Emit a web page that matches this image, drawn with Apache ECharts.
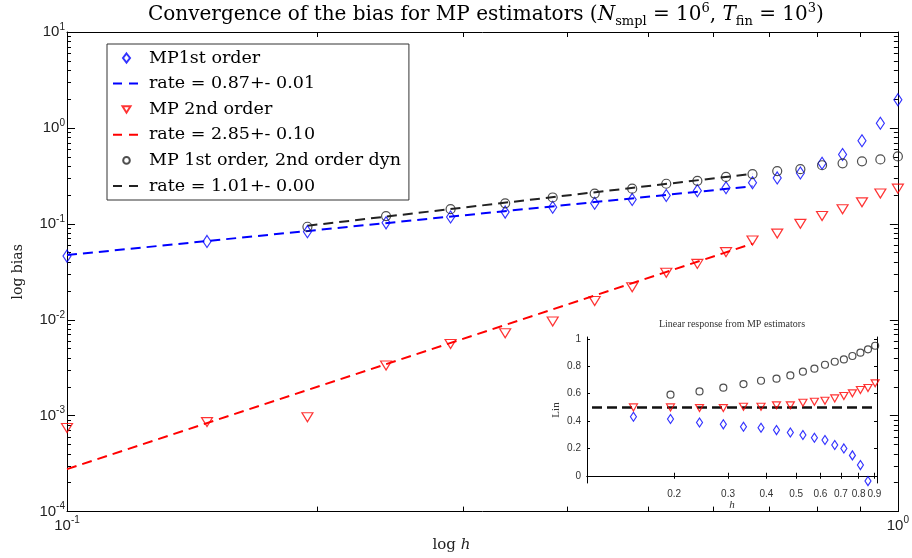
<!DOCTYPE html>
<html><head><meta charset="utf-8">
<script src="https://cdn.jsdelivr.net/npm/echarts@6/dist/echarts.min.js"></script>
<style>html,body{margin:0;padding:0;background:#fff}#c{width:912px;height:558px}</style>
</head><body><div id="c"></div>
<script>
// ---- data ----
const h = [0.1, 0.1474, 0.1947, 0.2421, 0.2895, 0.3368, 0.3842, 0.4316, 0.4789, 0.5263,
           0.5737, 0.6211, 0.6684, 0.7158, 0.7632, 0.8105, 0.8579, 0.9053, 0.9526, 1.0];
const biasMP1 = [0.0461, 0.0656, 0.0829, 0.1024, 0.1178, 0.1325, 0.149, 0.1637, 0.1798, 0.1974,
                 0.2218, 0.238, 0.2679, 0.3012, 0.3388, 0.4277, 0.5284, 0.7339, 1.119, 1.963];
const biasMP2 = [0.000745, 0.000857, 0.000964, 0.003334, 0.005585, 0.00723, 0.00959, 0.0157, 0.0218, 0.03097,
                 0.03823, 0.0507, 0.06714, 0.07912, 0.100, 0.1206, 0.1422, 0.1675, 0.207, 0.2327];
const hMP1d = h.slice(2);
const biasMP1d = [0.0932, 0.1206, 0.1422, 0.1637, 0.1883, 0.207, 0.2327, 0.2617, 0.2808,
                  0.3083, 0.3306, 0.3546, 0.3716, 0.4083, 0.4277, 0.4483, 0.4697, 0.5047];
const fitMP1X = [0.1, 0.6684],    fitMP1Y = [0.0472, 0.2464];
const fitMP2X = [0.1, 0.6684],    fitMP2Y = [0.000277, 0.0622];
const fitMP1dX = [0.1947, 0.6684], fitMP1dY = [0.0955, 0.3319];

const hLinMP1 = h.slice(1, 17);
const linMP1 = [0.432, 0.415, 0.39, 0.376, 0.359, 0.351, 0.334, 0.317, 0.298, 0.278,
                0.261, 0.225, 0.20, 0.149, 0.078, -0.039];
const hLinMP2 = h.slice(1, 18);
const linMP2 = [0.50, 0.50, 0.495, 0.495, 0.505, 0.505, 0.515, 0.515, 0.534, 0.541,
                0.549, 0.566, 0.583, 0.603, 0.627, 0.642, 0.676];
const hLinMP1d = h.slice(2, 18);
const linMP1d = [0.593, 0.617, 0.644, 0.671, 0.695, 0.71, 0.734, 0.761, 0.783, 0.812,
                 0.834, 0.851, 0.876, 0.90, 0.925, 0.951];
const linRefX = [0.108, 0.918], linRefY = [0.5, 0.5];

const legendNames = ['MP1st order', 'rate = 0.87+- 0.01', 'MP 2nd order', 'rate = 2.85+- 0.10',
                     'MP 1st order, 2nd order dyn', 'rate = 1.01+- 0.00'];
const yMajorTicks = [1e-4, 1e-3, 1e-2, 1e-1, 1, 10];
const xMajorTicks = [0.1, 1];
const xMinorTicks = [0.2, 0.3, 0.4, 0.5, 0.6, 0.7, 0.8, 0.9];
const minorMult = [2, 3, 4, 5, 6, 7, 8, 9];
const yMinorTicks = [];
yMajorTicks.slice(0, -1).forEach(d => minorMult.forEach(m => yMinorTicks.push(+(m * d).toPrecision(3))));
const insetXTicks = [0.2, 0.3, 0.4, 0.5, 0.6, 0.7, 0.8, 0.9];
const insetYTicks = [0, 0.2, 0.4, 0.6, 0.8, 1];

// ---- helpers ----
const pts = (xs, ys) => xs.map((x, i) => [x, ys[i]]);
const SERIF = 'DejaVu Serif';
const SANS = 'Liberation Sans';
const powLabel = v => '{b|10}{s|' + Math.round(Math.log10(v)) + '}';
const powRich = {
  b: {fontSize: 15, fontFamily: SANS, color: '#222', lineHeight: 20},
  s: {fontSize: 10, fontFamily: SANS, color: '#222', lineHeight: 11, verticalAlign: 'top'}
};
const BLUE = '#0000ff', RED = '#ff0000', BLACK = '#222';
const hollow = c => ({color: 'rgba(255,255,255,0)', borderColor: c, borderWidth: 1.2});

// legend icons (12x12 boxes kept by invisible corner moves)
const ICON_DIAMOND = 'path://M0,0 M12,12 M6,1.5 L9.5,6 L6,10.5 L2.5,6 Z';
const ICON_TRI_DOWN = 'path://M0,0 M12,12 M2,3 L10,3 L6,9.5 Z';
const ICON_CIRCLE = 'path://M0,0 M12,12 M9.3,6 A3.3,3.3 0 1 1 2.7,6 A3.3,3.3 0 1 1 9.3,6 Z';
const lineLegend = name => ({name: name, itemStyle: {opacity: 0}, lineStyle: {type: [9, 7], width: 2}});

const mainX = (pos, labels) => ({
  type: 'log', logBase: 10, gridIndex: 0, min: 0.1, max: 1, position: pos,
  axisLine: {show: true, lineStyle: {color: '#000', width: 1}},
  axisTick: {show: true, inside: true, length: 5, customValues: xMinorTicks, lineStyle: {color: '#000'}},
  axisLabel: labels ? {customValues: xMajorTicks, formatter: powLabel, rich: powRich, margin: 4} : {show: false},
  splitLine: {show: false}
});
const mainY = (pos, major, line) => ({
  type: 'log', logBase: 10, gridIndex: 0, min: 1e-4, max: 10, position: pos,
  axisLine: {show: line, lineStyle: {color: '#000', width: 1}},
  axisTick: {show: true, inside: true, length: major ? 8 : 4,
             customValues: major ? yMajorTicks : yMinorTicks, lineStyle: {color: '#000'}},
  axisLabel: (major && pos === 'left') ? {customValues: yMajorTicks, formatter: powLabel, rich: powRich, margin: 2} : {show: false},
  splitLine: {show: false}, splitArea: {show: false}
});

const titleRich = {
  a: {fontSize: 20, fontFamily: SERIF, fontWeight: 'normal', color: '#000', lineHeight: 26},
  i: {fontSize: 20, fontFamily: SERIF, fontWeight: 'normal', fontStyle: 'italic', color: '#000', lineHeight: 26},
  sub: {fontSize: 13, fontFamily: SERIF, fontWeight: 'normal', color: '#000', lineHeight: 13, verticalAlign: 'bottom'},
  sup: {fontSize: 13, fontFamily: SERIF, fontWeight: 'normal', color: '#000', lineHeight: 13, verticalAlign: 'top'}
};

const option = {
  animation: false,
  backgroundColor: '#fff',
  title: [{
    text: '{a|Convergence of the bias for MP estimators (}{i|N}{sub|smpl}{a| = 10}{sup|6}{a|, }{i|T}{sub|fin}{a| = 10}{sup|3}{a|)}',
    left: 148, top: 2, padding: 0,
    textStyle: {fontWeight: 'normal', rich: titleRich}
  }, {
    text: 'Linear response from MP estimators', left: 732, top: 319, padding: 0, textAlign: 'center',
    textStyle: {fontFamily: 'Liberation Serif', fontSize: 10, fontWeight: 'normal', color: '#333'}
  }],
  legend: {
    data: [
      {name: legendNames[0], icon: ICON_DIAMOND},
      lineLegend(legendNames[1]),
      {name: legendNames[2], icon: ICON_TRI_DOWN},
      lineLegend(legendNames[3]),
      {name: legendNames[4], icon: ICON_CIRCLE},
      lineLegend(legendNames[5])
    ],
    orient: 'vertical', left: 107, top: 44,
    backgroundColor: '#fff', borderColor: '#333', borderWidth: 1,
    padding: [5, 8, 5, 5], itemGap: 7.6, itemWidth: 27, itemHeight: 12, symbolKeepAspect: true,
    textStyle: {fontFamily: SERIF, fontSize: 17.5, color: '#000', lineHeight: 17, padding: [0, 0, 0, 4]},
    selectedMode: false
  },
  grid: [
    {left: 67, top: 32, width: 832, height: 491, show: false},
    {left: 587, top: 337, width: 290, height: 146, show: true, backgroundColor: '#fff', borderWidth: 0, z: 3}
  ],
  xAxis: [
    Object.assign(mainX('bottom', true), {
      name: '{r|log }{i|h}', nameLocation: 'middle', nameGap: 12,
      nameTextStyle: {padding: [0, 62, 0, 0], rich: {
        r: {fontFamily: SERIF, fontSize: 15, color: '#222'},
        i: {fontFamily: SERIF, fontSize: 15, fontStyle: 'italic', color: '#222'}}}
    }),
    mainX('top', false),
    {
      type: 'log', logBase: 10, gridIndex: 1, min: 0.104, max: 0.918, position: 'bottom', z: 4,
      axisLine: {show: true, lineStyle: {color: '#000', width: 1}},
      axisTick: {show: true, inside: true, length: 3, customValues: insetXTicks, lineStyle: {color: '#000'}},
      axisLabel: {customValues: insetXTicks, formatter: v => v.toFixed(1), fontFamily: SANS, fontSize: 10, color: '#333', margin: 6},
      splitLine: {show: false},
      name: 'h', nameLocation: 'middle', nameGap: 17,
      nameTextStyle: {fontFamily: 'Liberation Serif', fontStyle: 'italic', fontSize: 11, color: '#333'}
    },
    {
      type: 'log', logBase: 10, gridIndex: 1, min: 0.104, max: 0.918, position: 'top', z: 4,
      axisLine: {show: true, lineStyle: {color: '#000', width: 1}},
      axisTick: {show: true, inside: true, length: 3, customValues: insetXTicks, lineStyle: {color: '#000'}},
      axisLabel: {show: false}, splitLine: {show: false}
    }
  ],
  yAxis: [
    Object.assign(mainY('left', true, true), {
      name: 'log bias', nameLocation: 'middle', nameGap: 42,
      nameTextStyle: {fontFamily: SERIF, fontSize: 14, color: '#222'}
    }),
    mainY('left', false, false),
    mainY('right', true, true),
    mainY('right', false, false),
    {
      type: 'value', gridIndex: 1, min: -0.053, max: 1.015, position: 'left', z: 4,
      axisLine: {show: true, lineStyle: {color: '#000', width: 1}},
      axisTick: {show: true, inside: true, length: 3, customValues: insetYTicks, lineStyle: {color: '#000'}},
      axisLabel: {customValues: insetYTicks, formatter: v => String(+v.toFixed(1)), fontFamily: SANS, fontSize: 10, color: '#333', margin: 6},
      splitLine: {show: false},
      name: 'Lin', nameLocation: 'middle', nameGap: 25,
      nameTextStyle: {fontFamily: 'Liberation Serif', fontSize: 11, color: '#333'}
    },
    {
      type: 'value', gridIndex: 1, min: -0.053, max: 1.015, position: 'right', z: 4,
      axisLine: {show: true, lineStyle: {color: '#000', width: 1}},
      axisTick: {show: true, inside: true, length: 3, customValues: insetYTicks, lineStyle: {color: '#000'}},
      axisLabel: {show: false}, splitLine: {show: false}
    }
  ],
  series: [
    {name: legendNames[0], type: 'scatter', xAxisIndex: 0, yAxisIndex: 0, data: pts(h, biasMP1),
     symbol: 'diamond', symbolSize: [8, 12], itemStyle: hollow(BLUE), z: 3},
    {name: legendNames[1], type: 'line', xAxisIndex: 0, yAxisIndex: 0, data: pts(fitMP1X, fitMP1Y),
     symbol: 'none', lineStyle: {color: BLUE, width: 2, type: [10, 6]}, itemStyle: {color: BLUE}, z: 2},
    {name: legendNames[2], type: 'scatter', xAxisIndex: 0, yAxisIndex: 0, data: pts(h, biasMP2),
     symbol: 'triangle', symbolRotate: 180, symbolSize: [11, 9], itemStyle: hollow(RED), z: 3},
    {name: legendNames[3], type: 'line', xAxisIndex: 0, yAxisIndex: 0, data: pts(fitMP2X, fitMP2Y),
     symbol: 'none', lineStyle: {color: RED, width: 2, type: [10, 6]}, itemStyle: {color: RED}, z: 2},
    {name: legendNames[4], type: 'scatter', xAxisIndex: 0, yAxisIndex: 0, data: pts(hMP1d, biasMP1d),
     symbol: 'circle', symbolSize: 9, itemStyle: hollow(BLACK), z: 3},
    {name: legendNames[5], type: 'line', xAxisIndex: 0, yAxisIndex: 0, data: pts(fitMP1dX, fitMP1dY),
     symbol: 'none', lineStyle: {color: BLACK, width: 2, type: [10, 6]}, itemStyle: {color: BLACK}, z: 2},

    {name: 'inset ref', type: 'line', xAxisIndex: 2, yAxisIndex: 4, data: pts(linRefX, linRefY),
     symbol: 'none', lineStyle: {color: '#111', width: 2.5, type: [10, 5]}, z: 5},
    {name: 'inset MP1', type: 'scatter', xAxisIndex: 2, yAxisIndex: 4, data: pts(hLinMP1, linMP1),
     symbol: 'diamond', symbolSize: [6, 9], itemStyle: hollow(BLUE), z: 6},
    {name: 'inset MP2', type: 'scatter', xAxisIndex: 2, yAxisIndex: 4, data: pts(hLinMP2, linMP2),
     symbol: 'triangle', symbolRotate: 180, symbolSize: [8, 7], itemStyle: hollow(RED), z: 6},
    {name: 'inset MP1d', type: 'scatter', xAxisIndex: 2, yAxisIndex: 4, data: pts(hLinMP1d, linMP1d),
     symbol: 'circle', symbolSize: 7, itemStyle: hollow(BLACK), z: 6}
  ]
};
const chart = echarts.init(document.getElementById('c'));
chart.setOption(option);
</script>
</body></html>
